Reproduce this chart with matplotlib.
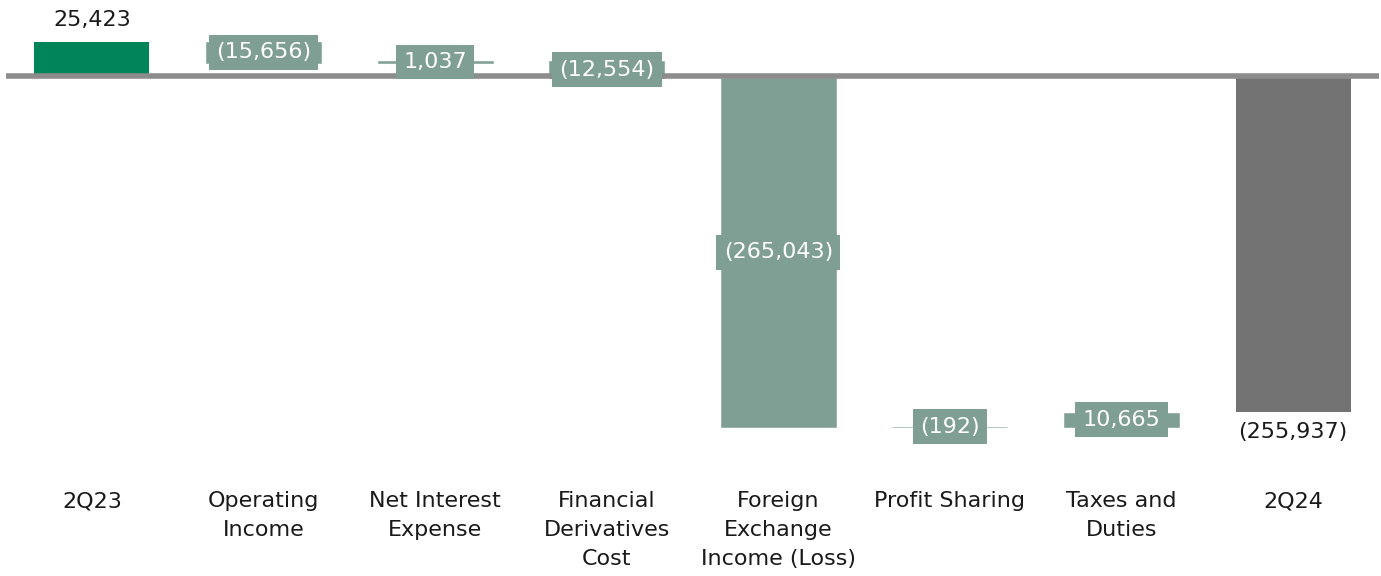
import numpy as np
import matplotlib
matplotlib.use("Agg")
import matplotlib.pyplot as plt

# Net income bridge 2Q23 -> 2Q24
categories = ["2Q23", "Operating\nIncome", "Net Interest\nExpense",
              "Financial\nDerivatives\nCost", "Foreign\nExchange\nIncome (Loss)",
              "Profit Sharing", "Taxes and\nDuties", "2Q24"]
start_value = 25423
end_value = -255937
changes = [-15656, 1037, -12554, -265043, -192, 10665]

START_COLOR = "#00855a"
STEP_COLOR = "#7f9e94"
END_COLOR = "#737373"
LINE_COLOR = "#8c8c8c"
TEXT_COLOR = "#1a1a1a"
FS = 16

plt.rcParams['font.family'] = ['DejaVu Sans']


def fmt(v):
    s = f"{abs(v):,}"
    return f"({s})" if v < 0 else s


fig = plt.figure(figsize=(13.81, 5.76), dpi=100)
ax = fig.add_axes([6 / 1381, 1 - 480 / 576, 1373 / 1381, 480 / 576])

x = np.arange(len(categories))
width = 0.67

# bars: first and last from zero, steps float on the running total
ax.bar(x[0], start_value, width, color=START_COLOR, zorder=2)
ax.bar(x[-1], end_value, width, color=END_COLOR, zorder=2)

running = start_value
step_mids = []
for i, d in enumerate(changes):
    lo, hi = sorted([running, running + d])
    ax.bar(x[i + 1], hi - lo, width, bottom=lo, color=STEP_COLOR,
           edgecolor=STEP_COLOR, lw=0.4, zorder=2)
    step_mids.append((lo + hi) / 2)
    running += d

ax.axhline(0, color=LINE_COLOR, lw=4, zorder=3)

# value labels
ax.annotate(fmt(start_value), (x[0], start_value), xytext=(0, 9),
            textcoords="offset points", ha="center", va="bottom",
            fontsize=FS, color=TEXT_COLOR)
ax.annotate(fmt(end_value), (x[-1], end_value), xytext=(0, -7),
            textcoords="offset points", ha="center", va="top",
            fontsize=FS, color=TEXT_COLOR)
for i, (d, m) in enumerate(zip(changes, step_mids)):
    ax.text(x[i + 1], m, fmt(d), ha="center", va="center", fontsize=FS,
            color="white", zorder=4,
            bbox=dict(boxstyle="square,pad=0.33", fc=STEP_COLOR, ec="none"))

ax.set_xlim(-0.5, len(categories) - 0.5)
ax.set_ylim(-(480 - 75.5) * 760, 75.5 * 760)
ax.set_xticks(x)
ax.set_xticklabels(categories, fontsize=FS, color=TEXT_COLOR, linespacing=1.55)
ax.tick_params(axis="x", length=0, pad=8)
ax.set_yticks([])
for s in ax.spines.values():
    s.set_visible(False)

fig.savefig("out.png", dpi=100)
